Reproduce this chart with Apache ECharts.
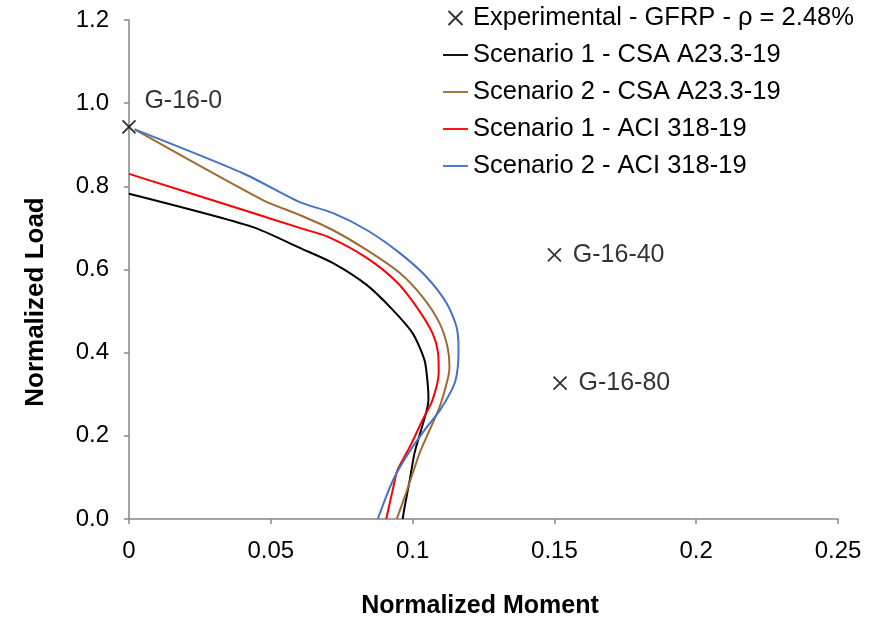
<!DOCTYPE html>
<html>
<head>
<meta charset="utf-8">
<title>Normalized load vs moment</title>
<script src="https://cdn.jsdelivr.net/npm/echarts@6/dist/echarts.min.js"></script>
<style>
  html, body { margin: 0; padding: 0; background: #fff; }
  #chart { width: 874px; height: 620px; }
</style>
</head>
<body>
<div id="chart"></div>
<script>
// experimental points
const expNames = ['G-16-0', 'G-16-40', 'G-16-80']
const expMoment = [0, 0.150, 0.152]
const expLoad = [0.943, 0.635, 0.327]

// Scenario 1 - CSA A23.3-19
const s1CsaMoment = [0, 0.0437, 0.0602, 0.0718, 0.0838, 0.093, 0.100, 0.1042, 0.1053, 0.1056, 0.105, 0.103, 0.1007, 0.099, 0.0972, 0.0965]
const s1CsaLoad = [0.782, 0.702, 0.652, 0.616, 0.563, 0.503, 0.447, 0.382, 0.327, 0.29, 0.262, 0.214, 0.159, 0.094, 0.029, 0]

// Scenario 2 - CSA A23.3-19
const s2CsaMoment = [0.002, 0.0472, 0.0602, 0.0718, 0.0838, 0.0954, 0.1035, 0.1095, 0.1123, 0.113, 0.1123, 0.1095, 0.106, 0.1025, 0.0996, 0.0972, 0.0944]
const s2CsaLoad = [0.937, 0.767, 0.731, 0.695, 0.647, 0.592, 0.534, 0.471, 0.414, 0.366, 0.334, 0.269, 0.214, 0.159, 0.101, 0.053, 0]

// Scenario 1 - ACI 318-19
const s1AciMoment = [0, 0.0437, 0.0602, 0.070, 0.0838, 0.0944, 0.1014, 0.107, 0.109, 0.1092, 0.107, 0.1035, 0.099, 0.0947, 0.093, 0.0907]
const s1AciLoad = [0.830, 0.736, 0.700, 0.679, 0.628, 0.570, 0.510, 0.447, 0.399, 0.351, 0.286, 0.238, 0.173, 0.118, 0.070, 0]

// Scenario 2 - ACI 318-19
const s2AciMoment = [0.002, 0.040, 0.0602, 0.0718, 0.0838, 0.0954, 0.1049, 0.112, 0.1155, 0.1162, 0.115, 0.110, 0.105, 0.100, 0.0944, 0.0912, 0.0877]
const s2AciLoad = [0.937, 0.832, 0.762, 0.736, 0.695, 0.640, 0.582, 0.519, 0.462, 0.406, 0.33, 0.265, 0.221, 0.173, 0.111, 0.063, 0]

const xTicks = [0, 0.05, 0.1, 0.15, 0.2, 0.25]
const yTicks = [0, 0.2, 0.4, 0.6, 0.8, 1.0, 1.2]

const pairs = (xs, ys) => xs.map((x, i) => [x, ys[i]])

const font = 'Liberation Sans, Arial, sans-serif'
const axisGray = '#868686'
const lineIcon = 'path://M0,0H27V2H0Z'

const chart = echarts.init(document.getElementById('chart'))

const lineSeries = (name, xs, ys, color) => ({
  name,
  type: 'line',
  data: pairs(xs, ys),
  symbol: 'none',
  smooth: 0.25,
  lineStyle: { color, width: 2 },
  itemStyle: { color },
  z: 2
})

const option = {
  animation: false,
  backgroundColor: '#fff',
  textStyle: { fontFamily: font },
  grid: { left: 129, right: 36, top: 20, bottom: 101 },
  legend: {
    orient: 'vertical',
    left: 443,
    top: 5,
    padding: 0,
    itemWidth: 25,
    itemHeight: 14,
    itemGap: 11,
    symbolKeepAspect: true,
    textStyle: { fontFamily: font, fontSize: 25.5, color: '#000', lineHeight: 26 },
    data: [
      { name: 'Experimental - GFRP - ρ = 2.48%' },
      { name: 'Scenario 1 - CSA A23.3-19', icon: lineIcon },
      { name: 'Scenario 2 - CSA A23.3-19', icon: lineIcon },
      { name: 'Scenario 1 - ACI 318-19', icon: lineIcon },
      { name: 'Scenario 2 - ACI 318-19', icon: lineIcon }
    ]
  },
  xAxis: {
    type: 'value',
    min: 0,
    max: 0.25,
    interval: 0.05,
    splitLine: { show: false },
    axisLine: { onZero: false, lineStyle: { color: axisGray, width: 1.5 } },
    axisTick: { length: 5, lineStyle: { color: axisGray, width: 1.5 } },
    axisLabel: {
      margin: 20,
      fontSize: 24,
      color: '#000',
      fontFamily: font,
      formatter: v => String(xTicks.find(t => Math.abs(t - v) < 1e-9) ?? v)
    }
  },
  yAxis: {
    type: 'value',
    min: 0,
    max: 1.2,
    interval: 0.2,
    splitLine: { show: false },
    axisLine: { show: true, onZero: false, lineStyle: { color: axisGray, width: 1.5 } },
    axisTick: { show: true, length: 5, lineStyle: { color: axisGray, width: 1.5 } },
    axisLabel: {
      margin: 20,
      fontSize: 24,
      color: '#000',
      fontFamily: font,
      formatter: v => (yTicks.find(t => Math.abs(t - v) < 1e-9) ?? v).toFixed(1)
    }
  },
  graphic: [
    {
      type: 'text',
      x: 480,
      y: 606,
      style: {
        text: 'Normalized Moment',
        font: 'bold 25px ' + font,
        fill: '#000',
        textAlign: 'center',
        textVerticalAlign: 'middle'
      }
    },
    {
      type: 'text',
      x: 36,
      y: 302,
      rotation: Math.PI / 2,
      style: {
        text: 'Normalized Load',
        font: 'bold 26px ' + font,
        fill: '#000',
        textAlign: 'center',
        textVerticalAlign: 'middle'
      }
    }
  ],
  series: [
    lineSeries('Scenario 1 - CSA A23.3-19', s1CsaMoment, s1CsaLoad, '#000000'),
    lineSeries('Scenario 2 - CSA A23.3-19', s2CsaMoment, s2CsaLoad, '#9E6B33'),
    lineSeries('Scenario 1 - ACI 318-19', s1AciMoment, s1AciLoad, '#FF0000'),
    lineSeries('Scenario 2 - ACI 318-19', s2AciMoment, s2AciLoad, '#4472C4'),
    {
      name: 'Experimental - GFRP - ρ = 2.48%',
      type: 'scatter',
      symbol: 'path://M0,0L10,10M10,0L0,10',
      symbolSize: 13,
      itemStyle: { color: 'rgba(0,0,0,0)', borderColor: '#000', borderWidth: 1.8 },
      z: 5,
      label: {
        show: true,
        position: 'right',
        distance: 11,
        fontSize: 25,
        color: '#000',
        fontFamily: font,
        formatter: p => expNames[p.dataIndex]
      },
      data: expMoment.map((x, i) => {
        const d = { value: [x, expLoad[i]] }
        if (i === 0) d.label = { position: 'right', offset: [-3, -26] }
        return d
      })
    }
  ]
}

chart.setOption(option)
</script>
</body>
</html>
